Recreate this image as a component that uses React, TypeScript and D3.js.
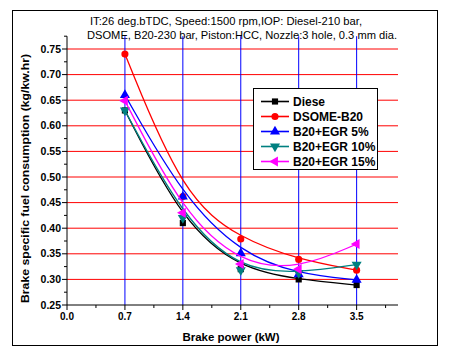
import React from 'react';
import * as d3 from 'd3';

// brake power (kW)
const power = [0.7, 1.4, 2.1, 2.8, 3.5];

const diesel = [0.63, 0.41, 0.32, 0.3, 0.289];
const dsome = [0.74, 0.462, 0.379, 0.339, 0.318];
const egr5 = [0.66, 0.4615, 0.351, 0.31, 0.299];
const egr10 = [0.63, 0.42, 0.318, 0.3125, 0.329];
const egr15 = [0.649, 0.43, 0.33, 0.32, 0.369];

const seriesNames = ['Diese', 'DSOME-B20', 'B20+EGR 5%', 'B20+EGR 10%', 'B20+EGR 15%'];
const seriesValues = [diesel, dsome, egr5, egr10, egr15];
const seriesColors = ['#000000', '#ff0000', '#0000ff', '#008080', '#ff00ff'];

const xTicks = [0.0, 0.7, 1.4, 2.1, 2.8, 3.5];
const xMinor = [0.35, 1.05, 1.75, 2.45, 3.15, 3.85];
const yTicks = [0.25, 0.3, 0.35, 0.4, 0.45, 0.5, 0.55, 0.6, 0.65, 0.7, 0.75];
const yMinor = [0.275, 0.325, 0.375, 0.425, 0.475, 0.525, 0.575, 0.625, 0.675, 0.725, 0.775];

const titleLines = [
  'IT:26 deg.bTDC, Speed:1500 rpm,IOP: Diesel-210 bar,',
  'DSOME, B20-230 bar, Piston:HCC, Nozzle:3 hole, 0.3 mm dia.',
];

const W = 453;
const H = 359;
const font = '"Liberation Sans", Arial, sans-serif';

export default function App() {
  const x = d3.scaleLinear().domain([0, 4.0]).range([67, 398]);
  const y = d3.scaleLinear().domain([0.25, 0.75]).range([305, 49]);
  const yTop = y(0.775);

  const line = d3
    .line<number>()
    .x((_, i) => x(power[i]))
    .y((d) => y(d))
    .curve(d3.curveBasis);

  // marker per series: square, circle, up, down, left
  const markers = [
    { type: d3.symbolSquare, size: 38, rot: 0 },
    { type: d3.symbolCircle, size: 40, rot: 0 },
    { type: d3.symbolTriangle, size: 44, rot: 0 },
    { type: d3.symbolTriangle, size: 44, rot: 180 },
    { type: d3.symbolTriangle, size: 44, rot: -90 },
  ];
  const sym = (k: number) => d3.symbol().type(markers[k].type).size(markers[k].size)() || '';

  const legX = 253;
  const legY = 88;

  return (
    <svg width={W} height={H} style={{ position: 'absolute', left: 0, top: 0 }} fontFamily={font}>
      <rect x={0} y={0} width={W} height={H} fill="#fff" />
      <rect x={12.5} y={10.5} width={425} height={335} fill="none" stroke="#000" strokeWidth={1} />

      {/* title */}
      <text x={90} y={25} fontSize={11} textLength={272} lengthAdjust="spacingAndGlyphs">
        {titleLines[0]}
      </text>
      <text x={87} y={38.5} fontSize={11} textLength={310} lengthAdjust="spacingAndGlyphs">
        {titleLines[1]}
      </text>

      {/* grid */}
      {yTicks.slice(1).map((t) => (
        <line key={'h' + t} x1={x(0)} x2={x(4.0)} y1={y(t)} y2={y(t)} stroke="#ff0000" strokeWidth={1} />
      ))}
      {xTicks.slice(1).map((t) => (
        <line key={'v' + t} x1={x(t)} x2={x(t)} y1={yTop} y2={y(0.25)} stroke="#0000ff" strokeWidth={1} />
      ))}

      {/* axes */}
      <line x1={x(0)} x2={x(0)} y1={yTop} y2={y(0.25)} stroke="#000" strokeWidth={1} />
      <line x1={x(0)} x2={x(4.0)} y1={y(0.25)} y2={y(0.25)} stroke="#000" strokeWidth={1} />
      {yTicks.map((t) => (
        <g key={'yt' + t}>
          <line x1={x(0) - 5} x2={x(0)} y1={y(t)} y2={y(t)} stroke="#000" />
          <text x={x(0) - 6} y={y(t)} dy="0.35em" fontSize={10.5} fontWeight="bold" textAnchor="end">
            {t.toFixed(2)}
          </text>
        </g>
      ))}
      {yMinor.map((t) => (
        <line key={'ym' + t} x1={x(0) - 3} x2={x(0)} y1={y(t)} y2={y(t)} stroke="#000" />
      ))}
      {xTicks.map((t) => (
        <g key={'xt' + t}>
          <line x1={x(t)} x2={x(t)} y1={y(0.25)} y2={y(0.25) + 5} stroke="#000" />
          <text x={x(t)} y={y(0.25) + 15} fontSize={10} fontWeight="bold" textAnchor="middle">
            {t.toFixed(1)}
          </text>
        </g>
      ))}
      {xMinor.map((t) => (
        <line key={'xm' + t} x1={x(t)} x2={x(t)} y1={y(0.25)} y2={y(0.25) + 3} stroke="#000" />
      ))}

      <text x={231} y={341} fontSize={11.5} fontWeight="bold" textAnchor="middle">
        Brake power (kW)
      </text>
      <text
        transform={`translate(29,${178.5}) rotate(-90)`}
        fontSize={11.5}
        fontWeight="bold"
        textAnchor="middle"
        textLength={249}
        lengthAdjust="spacingAndGlyphs"
      >
        Brake specific fuel consumption (kg/kw.hr)
      </text>

      {/* series */}
      {seriesValues.map((vals, k) => (
        <g key={'s' + k}>
          <path d={line(vals) || ''} fill="none" stroke={seriesColors[k]} strokeWidth={1.3} />
          {vals.map((v, i) => (
            <path
              key={i}
              d={sym(k)}
              transform={`translate(${x(power[i])},${y(v)}) rotate(${markers[k].rot})`}
              fill={seriesColors[k]}
            />
          ))}
        </g>
      ))}

      {/* legend */}
      <rect x={legX + 0.5} y={legY + 0.5} width={124} height={81} fill="#fff" stroke="#000" strokeWidth={1} />
      {seriesNames.map((name, k) => {
        const cy = legY + 13.5 + k * 15;
        return (
          <g key={'l' + k}>
            <line x1={legX + 8} x2={legX + 36} y1={cy} y2={cy} stroke={seriesColors[k]} strokeWidth={1.6} />
            <path d={sym(k)} transform={`translate(${legX + 22},${cy}) rotate(${markers[k].rot})`} fill={seriesColors[k]} />
            <text x={legX + 40} y={cy} dy="0.36em" fontSize={12} fontWeight="bold">
              {name}
            </text>
          </g>
        );
      })}
    </svg>
  );
}
